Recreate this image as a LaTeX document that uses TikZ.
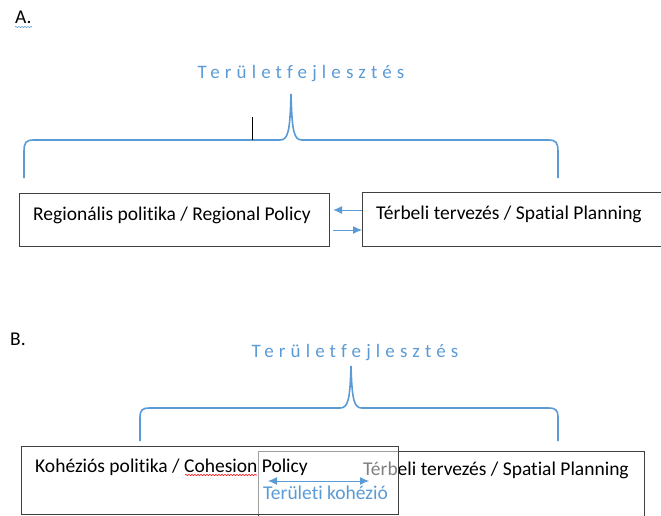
\documentclass[tikz,border=0pt]{standalone}
\usepackage{fontspec}
\setmainfont[Ligatures=CommonOff]{Carlito}
\newfontfamily\spacedfont[LetterSpace=27,Ligatures=CommonOff]{Carlito}
\usetikzlibrary{arrows.meta,decorations.pathmorphing}
\definecolor{wordblue}{HTML}{5B9BD5}
\definecolor{boxgray}{HTML}{404040}

\begin{document}
\begin{tikzpicture}[x=1pt,y=-1pt,
    box/.style={draw=boxgray,line width=1.1pt,anchor=north west,inner sep=0pt},
    lbl/.style={anchor=base west,inner sep=0pt,font=\fontsize{19.5}{22}\selectfont},
    title/.style={anchor=base,inner sep=0pt,text=wordblue,font=\spacedfont\fontsize{19}{22}\selectfont},
    brace/.style={draw=wordblue,line width=1.6pt},
    arr/.style={draw=wordblue,line width=1pt,-{Latex[length=9pt,width=8pt]}},
    squiggle/.style={decorate,decoration={snake,amplitude=0.6pt,segment length=3pt},line width=0.6pt},
  ]
  \useasboundingbox (0,0) rectangle (661,516);
  \clip (0,0) rectangle (661,516);

  % A.
  \node[lbl] (markA) at (15,24) {A.};
  \draw[squiggle,draw=wordblue] (15,27) -- (32,27);
  \node[title] (titleA) at (301,79) {Területfejlesztés};
  \draw[brace] (24,178) -- (24,152) .. controls (24,142) and (26,140) .. (34,140)
    -- (280,140) .. controls (288,140) and (290,132) .. (291,94)
    .. controls (292,132) and (294,140) .. (302,140)
    -- (548,140) .. controls (556,140) and (558,142) .. (558,152) -- (558,178);
  \draw[line width=0.8pt] (252,117) -- (252,140);
  \node[box,minimum width=310pt,minimum height=53pt] (regA) at (19,193) {};
  \node[lbl] (regAtxt) at ([xshift=14pt,yshift=-27pt]regA.north west) {Regionális politika / Regional Policy};
  \node[box,minimum width=310pt,minimum height=54pt] (tervA) at (362,192) {};
  \node[lbl] (tervAtxt) at ([xshift=14pt,yshift=-27pt]tervA.north west) {Térbeli tervezés / Spatial Planning};
  \draw[arr] ([yshift=-18pt]tervA.north west) -- ([yshift=-17pt,xshift=3pt]regA.north east);
  \draw[arr] ([yshift=-37pt,xshift=3pt]regA.north east) -- ([yshift=-38pt]tervA.north west);

  % B.
  \node[lbl] (markB) at (10,345) {B.};
  \node[title] (titleB) at (355,357) {Területfejlesztés};
  \draw[brace] (140,441) -- (140,418) .. controls (140,410) and (142,408) .. (150,408)
    -- (340,408) .. controls (348,408) and (350,400) .. (351,366)
    .. controls (352,400) and (354,408) .. (362,408)
    -- (548,408) .. controls (556,408) and (558,410) .. (558,418) -- (558,441);
  \node[box,minimum width=386pt,minimum height=80pt] (tervB) at (258,451) {};
  \node[lbl] (tervBtxt) at (363,475) {Térbeli tervezés / Spatial Planning};
  \node[box,minimum width=377pt,minimum height=68pt,fill=white,fill opacity=0.5] (kohB) at (21,446) {};
  \node[lbl] (kohBtxt) at ([xshift=14pt,yshift=-26pt]kohB.north west) {Kohéziós politika / Cohesion Policy};
  \draw[squiggle,draw=red] (185,475) -- (257,475);
  \coordinate (kohL) at (268,481);
  \coordinate (kohR) at (369,481);
  \draw[arr,{Latex[length=9pt,width=8pt]}-{Latex[length=9pt,width=8pt]}] (kohL) -- (kohR);
  \node[lbl,text=wordblue] (kohezio) at (263,499) {Területi kohézió};
\end{tikzpicture}
\end{document}
